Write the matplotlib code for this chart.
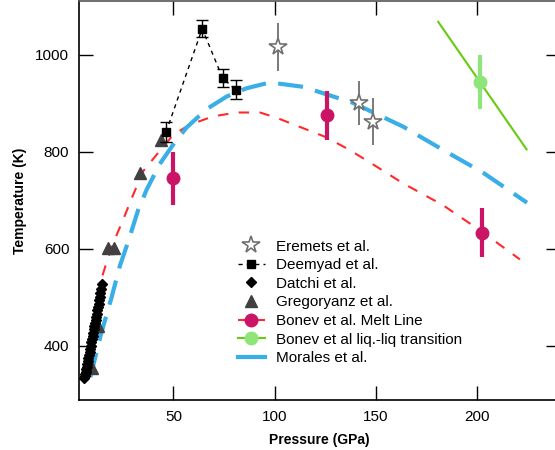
import matplotlib
matplotlib.use("Agg")
import matplotlib.pyplot as plt
from matplotlib.lines import Line2D

plt.rcParams['font.family'] = ['Liberation Sans', 'DejaVu Sans']

# Eremets et al. (open stars with error bars)
eremets_P = [101.6, 141.5, 148.4]
eremets_T = [1016, 901, 862]
eremets_err = [50, 46, 48]

# Deemyad et al. (squares, dashed line)
deemyad_P = [46.4, 64.2, 74.3, 80.7]
deemyad_T = [841, 1054, 952, 928]
deemyad_err = [20, 18, 18, 20]

# Datchi et al. (diamonds)
datchi_P = [6.0, 6.3, 6.5, 6.8, 7.0, 7.3, 7.5, 7.8, 8.0, 8.3, 8.6, 8.9, 9.2, 9.5,
            9.8, 10.1, 10.4, 10.7, 11.0, 11.3, 11.6, 11.9, 12.2, 12.5, 12.8,
            13.1, 13.4, 13.7, 14.0, 14.3, 14.7]
datchi_T = [333, 338, 342, 346, 352, 356, 362, 368, 374, 380, 388, 394, 400, 407,
            414, 420, 427, 434, 440, 447, 454, 460, 466, 473, 480,
            487, 494, 501, 508, 516, 527]

# Gregoryanz et al. (triangles)
gregoryanz_P = [9.8, 13.0, 17.8, 20.8, 33.5, 43.7]
gregoryanz_T = [355, 441, 602, 602, 757, 825]

# Bonev et al. melt line (red dashed) and melt points
bonev_line_P = [15.0, 16.2, 20.3, 25.2, 29.5, 35.1, 41.7, 49.9, 58.1, 69.6, 81.2,
                92.7, 101.0, 112.0, 124.8, 136.0, 147.0, 163.3, 183.0, 202.0, 221.0]
bonev_line_T = [545, 561, 612, 660, 705, 760, 794, 835, 856, 873, 881,
                881, 870, 852, 831, 806, 778, 735, 690, 636, 578]
bonev_pts_P = [50.0, 125.9, 202.4]
bonev_pts_T = [745, 875, 633]
bonev_pts_err = [55, 50, 50]

# Bonev et al. liquid-liquid transition
liq_line_P = [180.7, 224.3]
liq_line_T = [1068, 805]
liq_pt_P = [201.3]
liq_pt_T = [944]
liq_pt_err = [55]

# Morales et al. (blue dashed)
morales_P = [9.0, 14.0, 19.5, 23.6, 27.7, 32.6, 36.8, 43.3, 49.9, 56.5, 66.4,
             76.3, 86.1, 97.6, 114.0, 138.6, 163.3, 183.0, 202.8, 224.5]
morales_T = [335, 420, 500, 565, 615, 680, 722, 775, 815, 850, 888,
             914, 931, 943, 934, 901, 852, 804, 757, 695]

fig = plt.figure(figsize=(5.55, 4.5), dpi=100)
ax = fig.add_axes([79 / 555, 50 / 450, (560 - 79) / 555, 399 / 450])

red = '#ff2a2a'
crimson = '#cc1466'
blue = '#3aaee6'
green_line = '#66cc11'
green_pt = '#8ee67a'
tri_col = '#404040'
star_col = '#707070'

# curves
ax.plot(bonev_line_P, bonev_line_T, color=red, lw=1.5, dashes=(5, 5), zorder=2)
ax.plot(morales_P, morales_T, color=blue, lw=3, dashes=(6, 3), zorder=3)
ax.plot(liq_line_P, liq_line_T, color=green_line, lw=1.5, zorder=2)

# Deemyad
ax.plot(deemyad_P, deemyad_T, color='black', lw=1, dashes=(3, 3), zorder=4)
ax.errorbar(deemyad_P, deemyad_T, yerr=deemyad_err, fmt='s', color='black',
            ms=6, capsize=4, elinewidth=1, capthick=1, zorder=5)

# Gregoryanz
ax.plot(gregoryanz_P, gregoryanz_T, '^', color=tri_col, ms=8, ls='none', zorder=4)

# Datchi
ax.plot(datchi_P, datchi_T, 'D', color='black', ms=5.5, ls='none', zorder=5)

# Eremets
ax.errorbar(eremets_P, eremets_T, yerr=eremets_err, fmt='none', ecolor=star_col,
            elinewidth=1.3, zorder=5)
ax.plot(eremets_P, eremets_T, '*', mfc='white', mec=star_col, mew=1.2, ms=13,
        ls='none', zorder=6)

# Bonev melt points
ax.errorbar(bonev_pts_P, bonev_pts_T, yerr=bonev_pts_err, fmt='o', color=crimson,
            ms=9, elinewidth=3, capsize=0, zorder=6)

# liq-liq point
ax.errorbar(liq_pt_P, liq_pt_T, yerr=liq_pt_err, fmt='o', color=green_pt,
            ms=9, elinewidth=3, capsize=0, zorder=6)

ax.set_xlim(3.4, 240.8)
ax.set_ylim(288, 1111)
ax.set_xticks([50, 100, 150, 200])
ax.set_yticks([400, 600, 800, 1000])
ax.tick_params(direction='in', length=10, width=1, labelsize=11,
               top=True, right=True, pad=7)
for s in ax.spines.values():
    s.set_linewidth(1.2)
ax.spines['top'].set_color('#555555')

ax.set_xlabel('Pressure (GPa)', fontsize=10, fontweight='bold', labelpad=7)
ax.set_ylabel('Temperature (K)', fontsize=10, fontweight='bold', labelpad=6)

handles = [
    Line2D([], [], marker='*', mfc='white', mec=star_col, mew=1.2, ms=13, ls='none'),
    Line2D([], [], marker='s', color='black', ms=6, lw=1, dashes=(3, 3)),
    Line2D([], [], marker='D', color='black', ms=5, ls='none'),
    Line2D([], [], marker='^', color=tri_col, ms=8, ls='none'),
    Line2D([], [], marker='o', color=red, mfc=crimson, mec=crimson, ms=9, lw=1.5, dashes=(5, 3)),
    Line2D([], [], marker='o', color=green_line, mfc=green_pt, mec=green_pt, ms=9, lw=1.5),
    Line2D([], [], color=blue, lw=3),
]
labels = ['Eremets et al.', 'Deemyad et al.', 'Datchi et al.', 'Gregoryanz et al.',
          'Bonev et al. Melt Line', 'Bonev et al liq.-liq transition', 'Morales et al.']
leg = fig.legend(handles, labels, loc='upper left', bbox_to_anchor=(230 / 555, 1 - 232 / 450),
                 frameon=False, fontsize=11, handlelength=1.8, handletextpad=0.7,
                 labelspacing=0.3, borderpad=0)

fig.savefig('out.png', dpi=100)
